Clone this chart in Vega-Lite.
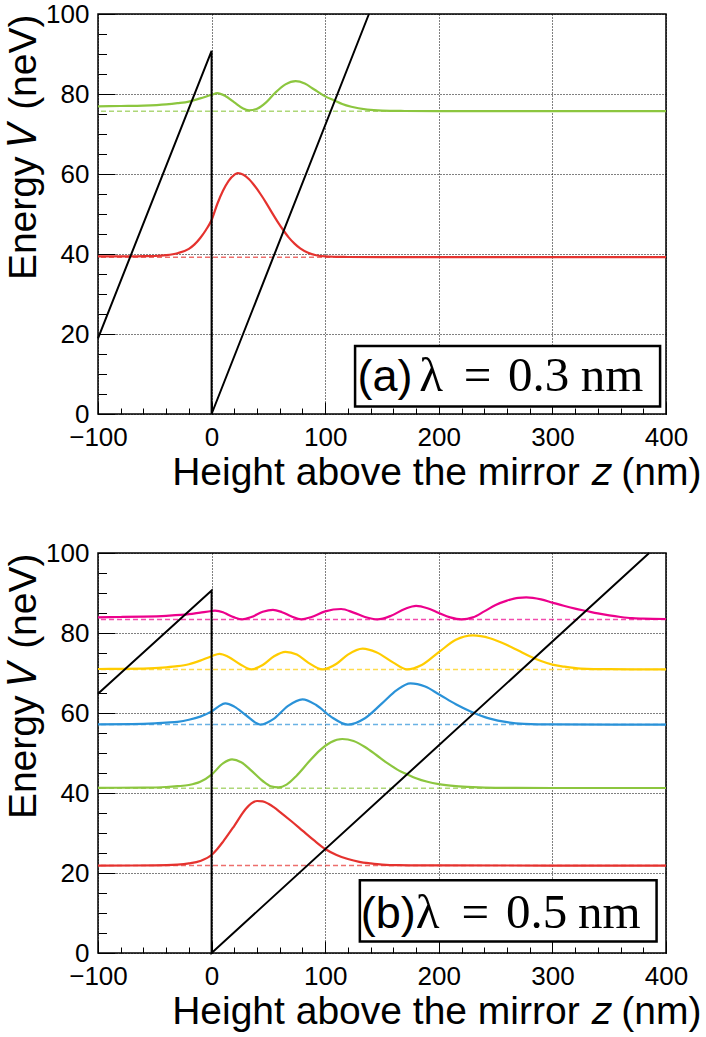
{
  "$schema": "https://vega.github.io/schema/vega-lite/v6.json",
  "padding": {"left": 3, "top": 0, "right": 0, "bottom": 0},
  "bounds": "flush",
  "spacing": 139,
  "config": {
    "font": "Liberation Sans",
    "view": {"stroke": "#000", "strokeWidth": 1.5},
    "axis": {"labelFontSize": 26, "titleFontSize": 39, "titleFontWeight": "normal", "labelColor": "#000", "titleColor": "#000", "tickColor": "#000", "domain": false, "labelFont": "Liberation Sans", "titleFont": "Liberation Sans", "labelFlush": false}
  },
  "datasets": {
    "curves": [
      {"panel":"a","state":"n1","x":-100,"y":39.4},{"panel":"a","state":"n1","x":-80,"y":39.4},{"panel":"a","state":"n1","x":-60,"y":39.45},{"panel":"a","state":"n1","x":-50,"y":39.5},{"panel":"a","state":"n1","x":-40,"y":39.7},{"panel":"a","state":"n1","x":-30,"y":40.2},{"panel":"a","state":"n1","x":-20,"y":41.3},{"panel":"a","state":"n1","x":-15,"y":42.4},{"panel":"a","state":"n1","x":-10,"y":44.0},{"panel":"a","state":"n1","x":-5,"y":46.0},{"panel":"a","state":"n1","x":0,"y":48.5},{"panel":"a","state":"n1","x":5,"y":52.5},{"panel":"a","state":"n1","x":10,"y":55.8},{"panel":"a","state":"n1","x":15,"y":58.3},{"panel":"a","state":"n1","x":20,"y":59.8},{"panel":"a","state":"n1","x":23,"y":60.2},{"panel":"a","state":"n1","x":28,"y":59.8},{"panel":"a","state":"n1","x":33,"y":58.7},{"panel":"a","state":"n1","x":38,"y":57.0},{"panel":"a","state":"n1","x":43,"y":55.0},{"panel":"a","state":"n1","x":48,"y":52.8},{"panel":"a","state":"n1","x":53,"y":50.4},{"panel":"a","state":"n1","x":58,"y":48.1},{"panel":"a","state":"n1","x":63,"y":46.0},{"panel":"a","state":"n1","x":68,"y":44.1},{"panel":"a","state":"n1","x":73,"y":42.6},{"panel":"a","state":"n1","x":78,"y":41.4},{"panel":"a","state":"n1","x":85,"y":40.3},{"panel":"a","state":"n1","x":92,"y":39.7},{"panel":"a","state":"n1","x":100,"y":39.4},{"panel":"a","state":"n1","x":110,"y":39.3},{"panel":"a","state":"n1","x":120,"y":39.25},{"panel":"a","state":"n1","x":150,"y":39.2},{"panel":"a","state":"n1","x":200,"y":39.2},{"panel":"a","state":"n1","x":300,"y":39.2},{"panel":"a","state":"n1","x":400,"y":39.2},
      {"panel":"a","state":"n2","x":-100,"y":76.9},{"panel":"a","state":"n2","x":-80,"y":77.0},{"panel":"a","state":"n2","x":-60,"y":77.1},{"panel":"a","state":"n2","x":-40,"y":77.4},{"panel":"a","state":"n2","x":-30,"y":77.7},{"panel":"a","state":"n2","x":-20,"y":78.1},{"panel":"a","state":"n2","x":-10,"y":78.9},{"panel":"a","state":"n2","x":0,"y":79.8},{"panel":"a","state":"n2","x":5,"y":80.2},{"panel":"a","state":"n2","x":12,"y":79.5},{"panel":"a","state":"n2","x":20,"y":77.9},{"panel":"a","state":"n2","x":27,"y":76.5},{"panel":"a","state":"n2","x":33,"y":75.9},{"panel":"a","state":"n2","x":40,"y":76.3},{"panel":"a","state":"n2","x":48,"y":77.9},{"panel":"a","state":"n2","x":56,"y":80.3},{"panel":"a","state":"n2","x":65,"y":82.4},{"panel":"a","state":"n2","x":74,"y":83.2},{"panel":"a","state":"n2","x":82,"y":82.6},{"panel":"a","state":"n2","x":90,"y":81.2},{"panel":"a","state":"n2","x":100,"y":79.4},{"panel":"a","state":"n2","x":108,"y":78.4},{"panel":"a","state":"n2","x":115,"y":77.5},{"panel":"a","state":"n2","x":123,"y":76.8},{"panel":"a","state":"n2","x":137,"y":76.1},{"panel":"a","state":"n2","x":150,"y":75.85},{"panel":"a","state":"n2","x":170,"y":75.75},{"panel":"a","state":"n2","x":200,"y":75.7},{"panel":"a","state":"n2","x":300,"y":75.7},{"panel":"a","state":"n2","x":400,"y":75.7},
      {"panel":"b","state":"n1","x":-100,"y":21.85},{"panel":"b","state":"n1","x":-50,"y":21.9},{"panel":"b","state":"n1","x":-30,"y":22.1},{"panel":"b","state":"n1","x":-20,"y":22.4},{"panel":"b","state":"n1","x":-10,"y":23.0},{"panel":"b","state":"n1","x":0,"y":24.5},{"panel":"b","state":"n1","x":5,"y":26.0},{"panel":"b","state":"n1","x":10,"y":27.8},{"panel":"b","state":"n1","x":20,"y":31.8},{"panel":"b","state":"n1","x":30,"y":36.0},{"panel":"b","state":"n1","x":35,"y":37.4},{"panel":"b","state":"n1","x":40,"y":38.0},{"panel":"b","state":"n1","x":45,"y":37.9},{"panel":"b","state":"n1","x":50,"y":37.3},{"panel":"b","state":"n1","x":55,"y":36.4},{"panel":"b","state":"n1","x":60,"y":35.3},{"panel":"b","state":"n1","x":70,"y":33.0},{"panel":"b","state":"n1","x":80,"y":30.6},{"panel":"b","state":"n1","x":90,"y":28.2},{"panel":"b","state":"n1","x":100,"y":26.0},{"panel":"b","state":"n1","x":110,"y":24.5},{"panel":"b","state":"n1","x":120,"y":23.5},{"panel":"b","state":"n1","x":130,"y":22.8},{"panel":"b","state":"n1","x":140,"y":22.4},{"panel":"b","state":"n1","x":150,"y":22.1},{"panel":"b","state":"n1","x":165,"y":21.95},{"panel":"b","state":"n1","x":200,"y":21.9},{"panel":"b","state":"n1","x":400,"y":21.85},
      {"panel":"b","state":"n2","x":-100,"y":41.3},{"panel":"b","state":"n2","x":-60,"y":41.35},{"panel":"b","state":"n2","x":-40,"y":41.5},{"panel":"b","state":"n2","x":-30,"y":41.7},{"panel":"b","state":"n2","x":-20,"y":42.0},{"panel":"b","state":"n2","x":-10,"y":42.8},{"panel":"b","state":"n2","x":0,"y":44.6},{"panel":"b","state":"n2","x":10,"y":47.4},{"panel":"b","state":"n2","x":18,"y":48.4},{"panel":"b","state":"n2","x":26,"y":47.7},{"panel":"b","state":"n2","x":35,"y":45.6},{"panel":"b","state":"n2","x":45,"y":43.0},{"panel":"b","state":"n2","x":52,"y":41.7},{"panel":"b","state":"n2","x":59,"y":41.4},{"panel":"b","state":"n2","x":66,"y":42.1},{"panel":"b","state":"n2","x":75,"y":44.4},{"panel":"b","state":"n2","x":85,"y":47.6},{"panel":"b","state":"n2","x":95,"y":50.6},{"panel":"b","state":"n2","x":105,"y":52.7},{"panel":"b","state":"n2","x":115,"y":53.5},{"panel":"b","state":"n2","x":125,"y":53.0},{"panel":"b","state":"n2","x":135,"y":51.5},{"panel":"b","state":"n2","x":145,"y":49.5},{"panel":"b","state":"n2","x":155,"y":47.4},{"panel":"b","state":"n2","x":165,"y":45.6},{"panel":"b","state":"n2","x":172,"y":44.7},{"panel":"b","state":"n2","x":180,"y":43.7},{"panel":"b","state":"n2","x":190,"y":42.8},{"panel":"b","state":"n2","x":200,"y":42.2},{"panel":"b","state":"n2","x":215,"y":41.7},{"panel":"b","state":"n2","x":230,"y":41.45},{"panel":"b","state":"n2","x":250,"y":41.3},{"panel":"b","state":"n2","x":300,"y":41.25},{"panel":"b","state":"n2","x":400,"y":41.25},
      {"panel":"b","state":"n3","x":-100,"y":57.15},{"panel":"b","state":"n3","x":-70,"y":57.2},{"panel":"b","state":"n3","x":-50,"y":57.4},{"panel":"b","state":"n3","x":-40,"y":57.6},{"panel":"b","state":"n3","x":-30,"y":57.8},{"panel":"b","state":"n3","x":-20,"y":58.3},{"panel":"b","state":"n3","x":-10,"y":59.1},{"panel":"b","state":"n3","x":0,"y":60.4},{"panel":"b","state":"n3","x":6,"y":61.6},{"panel":"b","state":"n3","x":12,"y":62.4},{"panel":"b","state":"n3","x":20,"y":61.6},{"panel":"b","state":"n3","x":30,"y":59.5},{"panel":"b","state":"n3","x":43,"y":57.1},{"panel":"b","state":"n3","x":55,"y":58.6},{"panel":"b","state":"n3","x":67,"y":61.7},{"panel":"b","state":"n3","x":80,"y":63.4},{"panel":"b","state":"n3","x":92,"y":62.0},{"panel":"b","state":"n3","x":105,"y":59.1},{"panel":"b","state":"n3","x":120,"y":57.1},{"panel":"b","state":"n3","x":135,"y":58.7},{"panel":"b","state":"n3","x":150,"y":62.4},{"panel":"b","state":"n3","x":163,"y":65.7},{"panel":"b","state":"n3","x":175,"y":67.4},{"panel":"b","state":"n3","x":188,"y":66.6},{"panel":"b","state":"n3","x":200,"y":64.7},{"panel":"b","state":"n3","x":215,"y":62.2},{"panel":"b","state":"n3","x":228,"y":60.4},{"panel":"b","state":"n3","x":245,"y":58.6},{"panel":"b","state":"n3","x":260,"y":57.7},{"panel":"b","state":"n3","x":275,"y":57.3},{"panel":"b","state":"n3","x":300,"y":57.15},{"panel":"b","state":"n3","x":400,"y":57.1},
      {"panel":"b","state":"n4","x":-100,"y":71.0},{"panel":"b","state":"n4","x":-80,"y":71.05},{"panel":"b","state":"n4","x":-60,"y":71.1},{"panel":"b","state":"n4","x":-40,"y":71.4},{"panel":"b","state":"n4","x":-30,"y":71.7},{"panel":"b","state":"n4","x":-20,"y":72.2},{"panel":"b","state":"n4","x":-10,"y":73.1},{"panel":"b","state":"n4","x":0,"y":74.2},{"panel":"b","state":"n4","x":7,"y":74.8},{"panel":"b","state":"n4","x":15,"y":74.0},{"panel":"b","state":"n4","x":25,"y":72.2},{"panel":"b","state":"n4","x":35,"y":70.9},{"panel":"b","state":"n4","x":45,"y":72.0},{"panel":"b","state":"n4","x":55,"y":74.2},{"panel":"b","state":"n4","x":65,"y":75.3},{"panel":"b","state":"n4","x":75,"y":74.6},{"panel":"b","state":"n4","x":85,"y":72.6},{"panel":"b","state":"n4","x":98,"y":70.9},{"panel":"b","state":"n4","x":110,"y":72.3},{"panel":"b","state":"n4","x":120,"y":74.6},{"panel":"b","state":"n4","x":133,"y":76.1},{"panel":"b","state":"n4","x":145,"y":75.2},{"panel":"b","state":"n4","x":160,"y":72.6},{"panel":"b","state":"n4","x":172,"y":70.9},{"panel":"b","state":"n4","x":185,"y":72.0},{"panel":"b","state":"n4","x":200,"y":75.2},{"panel":"b","state":"n4","x":215,"y":78.3},{"panel":"b","state":"n4","x":230,"y":79.4},{"panel":"b","state":"n4","x":245,"y":78.7},{"panel":"b","state":"n4","x":260,"y":77.0},{"panel":"b","state":"n4","x":270,"y":75.6},{"panel":"b","state":"n4","x":280,"y":74.2},{"panel":"b","state":"n4","x":290,"y":73.0},{"panel":"b","state":"n4","x":300,"y":72.1},{"panel":"b","state":"n4","x":310,"y":71.6},{"panel":"b","state":"n4","x":325,"y":71.1},{"panel":"b","state":"n4","x":350,"y":70.95},{"panel":"b","state":"n4","x":400,"y":70.9},
      {"panel":"b","state":"n5","x":-100,"y":83.9},{"panel":"b","state":"n5","x":-80,"y":84.0},{"panel":"b","state":"n5","x":-60,"y":84.1},{"panel":"b","state":"n5","x":-40,"y":84.3},{"panel":"b","state":"n5","x":-20,"y":84.7},{"panel":"b","state":"n5","x":-10,"y":85.1},{"panel":"b","state":"n5","x":0,"y":85.5},{"panel":"b","state":"n5","x":3,"y":85.6},{"panel":"b","state":"n5","x":10,"y":85.2},{"panel":"b","state":"n5","x":15,"y":84.5},{"panel":"b","state":"n5","x":20,"y":83.9},{"panel":"b","state":"n5","x":27,"y":83.4},{"panel":"b","state":"n5","x":35,"y":84.0},{"panel":"b","state":"n5","x":45,"y":85.3},{"panel":"b","state":"n5","x":54,"y":85.8},{"panel":"b","state":"n5","x":62,"y":85.2},{"panel":"b","state":"n5","x":70,"y":84.2},{"panel":"b","state":"n5","x":79,"y":83.4},{"panel":"b","state":"n5","x":88,"y":84.0},{"panel":"b","state":"n5","x":100,"y":85.4},{"panel":"b","state":"n5","x":114,"y":86.0},{"panel":"b","state":"n5","x":125,"y":85.1},{"panel":"b","state":"n5","x":135,"y":84.0},{"panel":"b","state":"n5","x":146,"y":83.4},{"panel":"b","state":"n5","x":158,"y":84.3},{"panel":"b","state":"n5","x":170,"y":86.0},{"panel":"b","state":"n5","x":180,"y":86.8},{"panel":"b","state":"n5","x":190,"y":86.2},{"panel":"b","state":"n5","x":200,"y":85.0},{"panel":"b","state":"n5","x":210,"y":83.9},{"panel":"b","state":"n5","x":220,"y":83.4},{"panel":"b","state":"n5","x":230,"y":83.9},{"panel":"b","state":"n5","x":240,"y":85.4},{"panel":"b","state":"n5","x":250,"y":87.0},{"panel":"b","state":"n5","x":260,"y":88.1},{"panel":"b","state":"n5","x":270,"y":88.8},{"panel":"b","state":"n5","x":277,"y":88.9},{"panel":"b","state":"n5","x":290,"y":88.4},{"panel":"b","state":"n5","x":300,"y":87.6},{"panel":"b","state":"n5","x":310,"y":86.8},{"panel":"b","state":"n5","x":320,"y":86.1},{"panel":"b","state":"n5","x":330,"y":85.5},{"panel":"b","state":"n5","x":340,"y":84.9},{"panel":"b","state":"n5","x":350,"y":84.4},{"panel":"b","state":"n5","x":360,"y":84.0},{"panel":"b","state":"n5","x":370,"y":83.7},{"panel":"b","state":"n5","x":380,"y":83.6},{"panel":"b","state":"n5","x":400,"y":83.5}
    ],
    "levels": [
      {"panel":"a","state":"n1","E":39.2},{"panel":"a","state":"n2","E":75.7},
      {"panel":"b","state":"n1","E":21.9},{"panel":"b","state":"n2","E":41.2},{"panel":"b","state":"n3","E":57.1},{"panel":"b","state":"n4","E":70.9},{"panel":"b","state":"n5","E":83.4}
    ],
    "potential": [
      {"panel":"a","i":1,"x":-100,"y":18.9},{"panel":"a","i":2,"x":0,"y":90.8},{"panel":"a","i":3,"x":0,"y":0},{"panel":"a","i":4,"x":138.5,"y":100},
      {"panel":"b","i":1,"x":-100,"y":64.8},{"panel":"b","i":2,"x":0,"y":90.6},{"panel":"b","i":3,"x":0,"y":0},{"panel":"b","i":4,"x":385.2,"y":100}
    ],
    "boxes": [
      {"panel":"a","x1":126.3,"x2":394.8,"y1":1.9,"y2":17.0},
      {"panel":"b","x1":130.5,"x2":391.7,"y1":2.9,"y2":18.2}
    ],
    "tags": [
      {"panel":"a","text":"(a)","x":152.7,"y":5.8},
      {"panel":"b","text":"(b)","x":155.6,"y":6.2}
    ],
    "formula": [
      {"panel":"a","text":"λ","x":193.2,"y":5.8},{"panel":"a","text":"=","x":234.2,"y":5.8},{"panel":"a","text":"0.3","x":287.9,"y":5.8},{"panel":"a","text":"nm","x":352.5,"y":5.8},
      {"panel":"b","text":"λ","x":190.1,"y":6.2},{"panel":"b","text":"=","x":232.1,"y":6.2},{"panel":"b","text":"0.5","x":286.2,"y":6.2},{"panel":"b","text":"nm","x":350,"y":6.2}
    ]
  },
  "vconcat": [
    {
      "width": 568, "height": 400,
      "resolve": {"axis": {"x": "independent", "y": "independent"}},
      "layer": [
        {"data": {"name": "levels"}, "transform": [{"filter": "datum.panel === 'a'"}],
         "mark": {"type": "rule", "strokeDash": [5, 3], "strokeWidth": 1.5, "opacity": 0.7},
         "encoding": {
           "y": {"field": "E", "type": "quantitative", "scale": {"domain": [0, 100], "nice": false}, "axis": {"orient": "left", "values": [5,10,15,25,30,35,45,50,55,65,70,75,85,90,95], "labels": false, "grid": false, "title": null, "tickSize": -8.5, "tickWidth": 1}},
           "color": {"field": "state", "type": "nominal", "scale": {"domain": ["n1","n2","n3","n4","n5"], "range": ["#e5322e","#8cc63f","#2a92d8","#ffcc00","#ec008c"]}, "legend": null}
         }},
        {"data": {"name": "curves"}, "transform": [{"filter": "datum.panel === 'a'"}],
         "mark": {"type": "line", "interpolate": "monotone", "strokeWidth": 2.2},
         "encoding": {
           "x": {"field": "x", "type": "quantitative", "scale": {"domain": [-100, 400], "nice": false, "zero": false}, "axis": {"orient": "bottom", "values": [-100,0,100,200,300,400], "ticks": false, "tickSize": 0, "grid": true, "gridDash": [1, 2], "gridColor": "#000", "gridWidth": 1, "gridOpacity": 1, "labelPadding": 10, "labelFlush": false, "title": "Height above the mirror  𝑧 (nm)", "titleAlign": "right", "titleAnchor": "end", "titleX": 603, "titlePadding": 3}},
           "y": {"field": "y", "type": "quantitative", "scale": {"domain": [0, 100], "nice": false}, "axis": {"orient": "left", "values": [0,20,40,60,80,100], "ticks": false, "tickSize": 0, "grid": true, "gridDash": [1, 2], "gridColor": "#000", "gridWidth": 1, "gridOpacity": 1, "labelPadding": 9, "title": "Energy 𝑉  (neV)", "titleAnchor": "end", "titlePadding": 2}},
           "color": {"field": "state", "type": "nominal", "scale": {"domain": ["n1","n2","n3","n4","n5"], "range": ["#e5322e","#8cc63f","#2a92d8","#ffcc00","#ec008c"]}, "legend": null}
         }},
        {"data": {"name": "potential"}, "transform": [{"filter": "datum.panel === 'a'"}],
         "mark": {"type": "line", "color": "#000", "strokeWidth": 2},
         "encoding": {
           "x": {"field": "x", "type": "quantitative", "scale": {"domain": [-100, 400], "nice": false, "zero": false}, "axis": {"orient": "bottom", "values": [-100,0,100,200,300,400], "labels": false, "grid": false, "title": null, "tickSize": -12, "tickWidth": 1}},
           "y": {"field": "y", "type": "quantitative", "scale": {"domain": [0, 100], "nice": false}, "axis": {"orient": "left", "values": [0,20,40,60,80,100], "labels": false, "grid": false, "title": null, "tickSize": -17, "tickWidth": 1}},
           "order": {"field": "i", "type": "quantitative"}
         }},
        {"data": {"name": "boxes"}, "transform": [{"filter": "datum.panel === 'a'"}],
         "mark": {"type": "rect", "fill": "#fff", "stroke": "#000", "strokeWidth": 2.5},
         "encoding": {
           "x": {"field": "x1", "type": "quantitative", "scale": {"domain": [-100, 400], "nice": false, "zero": false}, "axis": {"orient": "bottom", "values": [-80,-60,-40,-20,20,40,60,80,120,140,160,180,220,240,260,280,320,340,360,380], "labels": false, "grid": false, "title": null, "tickSize": -6, "tickWidth": 1}},
           "x2": {"field": "x2"},
           "y": {"field": "y1", "type": "quantitative", "scale": {"domain": [0, 100], "nice": false}, "axis": null},
           "y2": {"field": "y2"}
         }},
        {"data": {"name": "tags"}, "transform": [{"filter": "datum.panel === 'a'"}],
         "mark": {"type": "text", "font": "Liberation Sans", "fontSize": 45, "baseline": "alphabetic", "align": "center", "color": "#000"},
         "encoding": {
           "x": {"field": "x", "type": "quantitative", "scale": {"domain": [-100, 400], "nice": false, "zero": false}, "axis": null},
           "y": {"field": "y", "type": "quantitative", "scale": {"domain": [0, 100], "nice": false}, "axis": null},
           "text": {"field": "text"}
         }},
        {"data": {"name": "formula"}, "transform": [{"filter": "datum.panel === 'a'"}],
         "mark": {"type": "text", "font": "Liberation Serif", "fontSize": 49, "baseline": "alphabetic", "align": "center", "color": "#000"},
         "encoding": {
           "x": {"field": "x", "type": "quantitative", "scale": {"domain": [-100, 400], "nice": false, "zero": false}, "axis": null},
           "y": {"field": "y", "type": "quantitative", "scale": {"domain": [0, 100], "nice": false}, "axis": null},
           "text": {"field": "text"}
         }}
      ]
    },
    {
      "width": 568, "height": 400,
      "resolve": {"axis": {"x": "independent", "y": "independent"}},
      "layer": [
        {"data": {"name": "levels"}, "transform": [{"filter": "datum.panel === 'b'"}],
         "mark": {"type": "rule", "strokeDash": [5, 3], "strokeWidth": 1.5, "opacity": 0.7},
         "encoding": {
           "y": {"field": "E", "type": "quantitative", "scale": {"domain": [0, 100], "nice": false}, "axis": {"orient": "left", "values": [5,10,15,25,30,35,45,50,55,65,70,75,85,90,95], "labels": false, "grid": false, "title": null, "tickSize": -8.5, "tickWidth": 1}},
           "color": {"field": "state", "type": "nominal", "scale": {"domain": ["n1","n2","n3","n4","n5"], "range": ["#e5322e","#8cc63f","#2a92d8","#ffcc00","#ec008c"]}, "legend": null}
         }},
        {"data": {"name": "curves"}, "transform": [{"filter": "datum.panel === 'b'"}],
         "mark": {"type": "line", "interpolate": "monotone", "strokeWidth": 2.2},
         "encoding": {
           "x": {"field": "x", "type": "quantitative", "scale": {"domain": [-100, 400], "nice": false, "zero": false}, "axis": {"orient": "bottom", "values": [-100,0,100,200,300,400], "ticks": false, "tickSize": 0, "grid": true, "gridDash": [1, 2], "gridColor": "#000", "gridWidth": 1, "gridOpacity": 1, "labelPadding": 10, "labelFlush": false, "title": "Height above the mirror  𝑧 (nm)", "titleAlign": "right", "titleAnchor": "end", "titleX": 603, "titlePadding": 3}},
           "y": {"field": "y", "type": "quantitative", "scale": {"domain": [0, 100], "nice": false}, "axis": {"orient": "left", "values": [0,20,40,60,80,100], "ticks": false, "tickSize": 0, "grid": true, "gridDash": [1, 2], "gridColor": "#000", "gridWidth": 1, "gridOpacity": 1, "labelPadding": 9, "title": "Energy 𝑉  (neV)", "titleAnchor": "end", "titlePadding": 2}},
           "color": {"field": "state", "type": "nominal", "scale": {"domain": ["n1","n2","n3","n4","n5"], "range": ["#e5322e","#8cc63f","#2a92d8","#ffcc00","#ec008c"]}, "legend": null}
         }},
        {"data": {"name": "potential"}, "transform": [{"filter": "datum.panel === 'b'"}],
         "mark": {"type": "line", "color": "#000", "strokeWidth": 2},
         "encoding": {
           "x": {"field": "x", "type": "quantitative", "scale": {"domain": [-100, 400], "nice": false, "zero": false}, "axis": {"orient": "bottom", "values": [-100,0,100,200,300,400], "labels": false, "grid": false, "title": null, "tickSize": -12, "tickWidth": 1}},
           "y": {"field": "y", "type": "quantitative", "scale": {"domain": [0, 100], "nice": false}, "axis": {"orient": "left", "values": [0,20,40,60,80,100], "labels": false, "grid": false, "title": null, "tickSize": -17, "tickWidth": 1}},
           "order": {"field": "i", "type": "quantitative"}
         }},
        {"data": {"name": "boxes"}, "transform": [{"filter": "datum.panel === 'b'"}],
         "mark": {"type": "rect", "fill": "#fff", "stroke": "#000", "strokeWidth": 2.5},
         "encoding": {
           "x": {"field": "x1", "type": "quantitative", "scale": {"domain": [-100, 400], "nice": false, "zero": false}, "axis": {"orient": "bottom", "values": [-80,-60,-40,-20,20,40,60,80,120,140,160,180,220,240,260,280,320,340,360,380], "labels": false, "grid": false, "title": null, "tickSize": -6, "tickWidth": 1}},
           "x2": {"field": "x2"},
           "y": {"field": "y1", "type": "quantitative", "scale": {"domain": [0, 100], "nice": false}, "axis": null},
           "y2": {"field": "y2"}
         }},
        {"data": {"name": "tags"}, "transform": [{"filter": "datum.panel === 'b'"}],
         "mark": {"type": "text", "font": "Liberation Sans", "fontSize": 45, "baseline": "alphabetic", "align": "center", "color": "#000"},
         "encoding": {
           "x": {"field": "x", "type": "quantitative", "scale": {"domain": [-100, 400], "nice": false, "zero": false}, "axis": null},
           "y": {"field": "y", "type": "quantitative", "scale": {"domain": [0, 100], "nice": false}, "axis": null},
           "text": {"field": "text"}
         }},
        {"data": {"name": "formula"}, "transform": [{"filter": "datum.panel === 'b'"}],
         "mark": {"type": "text", "font": "Liberation Serif", "fontSize": 49, "baseline": "alphabetic", "align": "center", "color": "#000"},
         "encoding": {
           "x": {"field": "x", "type": "quantitative", "scale": {"domain": [-100, 400], "nice": false, "zero": false}, "axis": null},
           "y": {"field": "y", "type": "quantitative", "scale": {"domain": [0, 100], "nice": false}, "axis": null},
           "text": {"field": "text"}
         }}
      ]
    }
  ]
}
